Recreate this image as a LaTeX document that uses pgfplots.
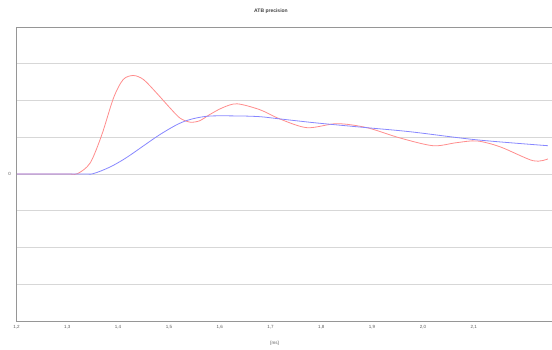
\documentclass[border=0pt]{standalone}
\usepackage{fontspec}
\setmainfont{Liberation Sans}
\usepackage{pgfplots}
\pgfplotsset{compat=1.18}
\definecolor{lred}{RGB}{255,140,140}
\definecolor{lblue}{RGB}{135,135,255}
\definecolor{gridc}{RGB}{215,215,215}
\definecolor{axc}{RGB}{150,150,150}
\begin{document}
\begin{tikzpicture}
\path[use as bounding box] (-16.5pt,-28pt) rectangle (535.5pt,321pt);
\begin{axis}[
  at={(0pt,0pt)}, anchor=south west,
  scale only axis, width=543.56pt, height=294pt,
  xmin=1.2, xmax=2.27, ymin=-4, ymax=4,
  axis line style={draw=none},
  xtick={1.2,1.3,1.4,1.5,1.6,1.7,1.8,1.9,2.0,2.1},
  xticklabels={{1,2},{1,3},{1,4},{1,5},{1,6},{1,7},{1,8},{1,9},{2,0},{2,1}},
  ytick={-4,-3,...,4},
  yticklabels={,,,,0,,,,},
  major tick length=0pt,
  ymajorgrids, grid style={gridc, line width=0.9pt},
  tick label style={font=\fontsize{4.5}{5}\selectfont, text=black!65},
  xticklabel style={yshift=-1pt},
  yticklabel style={xshift=-2pt},
  xlabel={[ms]},
  xlabel style={font=\fontsize{4.5}{5}\selectfont, text=black!65, at={(rel axis cs:0.4748,0)}, anchor=center, yshift=-22pt},
  clip=false,
]
\addplot[lred, line width=0.8pt, smooth, tension=0.5] coordinates {
(1.2,0) (1.30,0) (1.32,0.01) (1.345,0.3) (1.368,1.07) (1.391,2.07) (1.410,2.57) (1.430,2.68)
(1.450,2.57) (1.476,2.20) (1.502,1.80) (1.522,1.52) (1.542,1.41) (1.561,1.45) (1.577,1.59)
(1.605,1.80) (1.634,1.91)
(1.679,1.75) (1.718,1.50) (1.772,1.26) (1.831,1.37) (1.890,1.26) (1.955,0.98)
(2.020,0.77) (2.065,0.85) (2.106,0.90) (2.152,0.74) (2.217,0.36) (2.246,0.41)
};
\addplot[lblue, line width=0.8pt, smooth, tension=0.5] coordinates {
(1.2,0) (1.33,0) (1.351,0.01) (1.384,0.19) (1.418,0.46) (1.482,1.07) (1.528,1.42)
(1.574,1.57) (1.634,1.58) (1.679,1.56) (1.718,1.50) (1.79,1.39) (1.890,1.26)
(1.975,1.15) (2.106,0.93) (2.246,0.77)
};
\draw[axc, line width=1pt] (rel axis cs:0,1) -- (rel axis cs:0,0) -- (rel axis cs:1,0);
\draw[axc, line width=0.9pt] (rel axis cs:0,1) -- (rel axis cs:1,1);
\end{axis}
\node[font=\bfseries\fontsize{5}{6}\selectfont, text=black!75] at (254.5pt,310pt) {ATB precision};
\end{tikzpicture}
\end{document}
